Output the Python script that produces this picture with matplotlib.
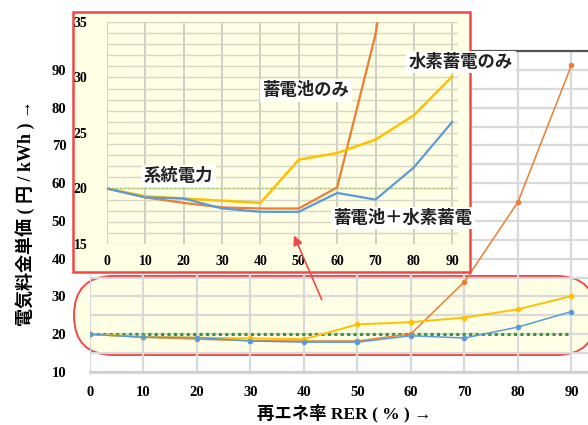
import matplotlib
matplotlib.use("Agg")
import matplotlib.pyplot as plt
from matplotlib.patches import FancyBboxPatch, Rectangle
from matplotlib.ticker import MultipleLocator

# 再エネ率 (%) と各ケースの電気料金単価 (円/kWh)
rer = [0, 10, 20, 30, 40, 50, 60, 70, 80, 90]
grid_power = [20, 20, 20, 20, 20, 20, 20, 20, 20, 20]
battery_only = [20, 19.2, 18.7, 18.3, 18.2, 18.2, 20.1, 33.9, 55, 91.2]
hydrogen_only = [20, 19.3, 19.1, 18.9, 18.7, 22.6, 23.2, 24.4, 26.6, 30.1]
battery_hydrogen = [20, 19.2, 19.1, 18.2, 17.9, 17.9, 19.6, 19.0, 21.9, 26.0]

main_yticks = [10, 20, 30, 40, 50, 60, 70, 80, 90]
inset_yticks = [15, 20, 25, 30, 35]

C_BLUE = "#5B9BD5"
C_ORANGE = "#ED7D31"
C_YELLOW = "#FFC000"
C_GREEN = "#2F9A2F"
C_LGREEN = "#9ACD5A"
C_RED = "#F04848"
C_CREAM = "#FFFFE6"

NUM_FONT = dict(family="Liberation Serif", weight="bold")
JP_FONT = ["Noto Sans CJK JP", "DejaVu Sans"]
LABEL_FONT = ["Liberation Serif", "Noto Sans CJK JP"]

fig = plt.figure(figsize=(5.88, 4.25), dpi=100)
fig.patch.set_facecolor("white")

# --- 全体グラフ ---
ax = fig.add_axes([90 / 588, 1 - 372 / 425, 498 / 588, 321 / 425])
ax.set_facecolor("none")
ax.set_xlim(0, 93.1)
ax.set_ylim(10, 95)
ax.set_axisbelow(True)
ax.xaxis.set_major_locator(MultipleLocator(10))
ax.set_yticks(main_yticks)
ax.yaxis.set_minor_locator(MultipleLocator(5))
ax.grid(True, which="major", axis="x", color="#D9D9D9", lw=1.6)
ax.grid(True, which="both", axis="y", color="#D9D9D9", lw=1.6)
ax.tick_params(which="both", length=0)
ax.tick_params(axis="x", pad=10)
ax.tick_params(axis="y", pad=17)
for lab in ax.get_xticklabels() + ax.get_yticklabels():
    lab.set_fontproperties(dict(NUM_FONT, size=10.5))
for side in ("left", "right"):
    ax.spines[side].set_visible(False)
ax.spines["top"].set_color("#555555")
ax.spines["top"].set_linewidth(1.6)
ax.spines["bottom"].set_color("#D0D0D0")
ax.spines["bottom"].set_linewidth(2)

# 拡大範囲を示す楕円枠
oval = FancyBboxPatch((0.74, 0.70), 5.22, 0.79,
                      boxstyle="round,pad=0,rounding_size=0.395",
                      transform=fig.dpi_scale_trans, facecolor=C_CREAM,
                      edgecolor=C_RED, lw=1.4, zorder=0.2, clip_on=False)
ax.add_patch(oval)

ax.plot(rer, grid_power, color=C_GREEN, lw=2.2, ls=(0, (1, 1.1)), zorder=3)
ax.plot(rer, battery_only, color=C_ORANGE, lw=1.1, marker="o", ms=3, zorder=3)
ax.plot(rer, hydrogen_only, color=C_YELLOW, lw=1.4, marker="o", ms=3, zorder=3)
ax.plot(rer, battery_hydrogen, color=C_BLUE, lw=1.1, marker="o", ms=3, zorder=3)

fig.text(0.585, 0.027, "再エネ率 RER ( % ) →", ha="center", va="center",
         family=LABEL_FONT, weight="bold", size=12.5)
fig.text(0.043, 0.5, "電気料金単価 ( 円 / kWh ) →", ha="center", va="center",
         rotation=90, family=LABEL_FONT, weight="bold", size=13)

# --- 拡大図の枠 ---
frame = Rectangle((73 / 588, 1 - 272 / 425), 397 / 588, 260 / 425,
                  transform=fig.transFigure, facecolor=C_CREAM,
                  edgecolor=C_RED, lw=1.8, zorder=1)
fig.add_artist(frame)

ins = fig.add_axes([107 / 588, 1 - 244 / 425, 351 / 588, 222 / 425], zorder=2)
ins.set_facecolor(C_CREAM)
ins.set_xlim(0, 91.5)
ins.set_ylim(15, 35)
ins.set_axisbelow(True)
ins.xaxis.set_major_locator(MultipleLocator(10))
ins.set_yticks(inset_yticks)
ins.yaxis.set_minor_locator(MultipleLocator(1))
ins.grid(True, which="major", axis="x", color="#CBCBC0", lw=1.3)
ins.grid(True, which="both", axis="y", color="#D6D6C6", lw=1.0)
ins.tick_params(which="both", length=0)
ins.tick_params(axis="x", pad=8)
ins.tick_params(axis="y", pad=14)
for lab in ins.get_xticklabels() + ins.get_yticklabels():
    lab.set_fontproperties(dict(NUM_FONT, size=10))
for sp in ins.spines.values():
    sp.set_visible(False)

ins.plot(rer, grid_power, color=C_LGREEN, lw=1.0, ls=(0, (1.5, 1.5)), zorder=3)
ins.plot(rer, battery_only, color=C_ORANGE, lw=1.6, zorder=3)
ins.plot(rer, hydrogen_only, color=C_YELLOW, lw=1.8, zorder=3)
ins.plot(rer, battery_hydrogen, color=C_BLUE, lw=1.6, zorder=3)

# 系列名ラベル
box = dict(facecolor="white", edgecolor="none", pad=1.8)
for x, y, s in [(0.520, 0.788, "蓄電池のみ"),
                (0.784, 0.854, "水素蓄電のみ"),
                (0.304, 0.586, "系統電力"),
                (0.685, 0.487, "蓄電池＋水素蓄電")]:
    fig.text(x, y, s, ha="center", va="center", family=JP_FONT,
             weight="bold", size=12.5, color="#222222", bbox=box, zorder=5)

fig.add_artist(plt.Annotation("", xy=(0.498, 0.452), xytext=(0.549, 0.289),
                              xycoords="figure fraction",
                              textcoords="figure fraction",
                              arrowprops=dict(arrowstyle="-|>", color=C_RED,
                                              lw=1.2, mutation_scale=14),
                              zorder=5))

fig.savefig("out.png", dpi=100)
